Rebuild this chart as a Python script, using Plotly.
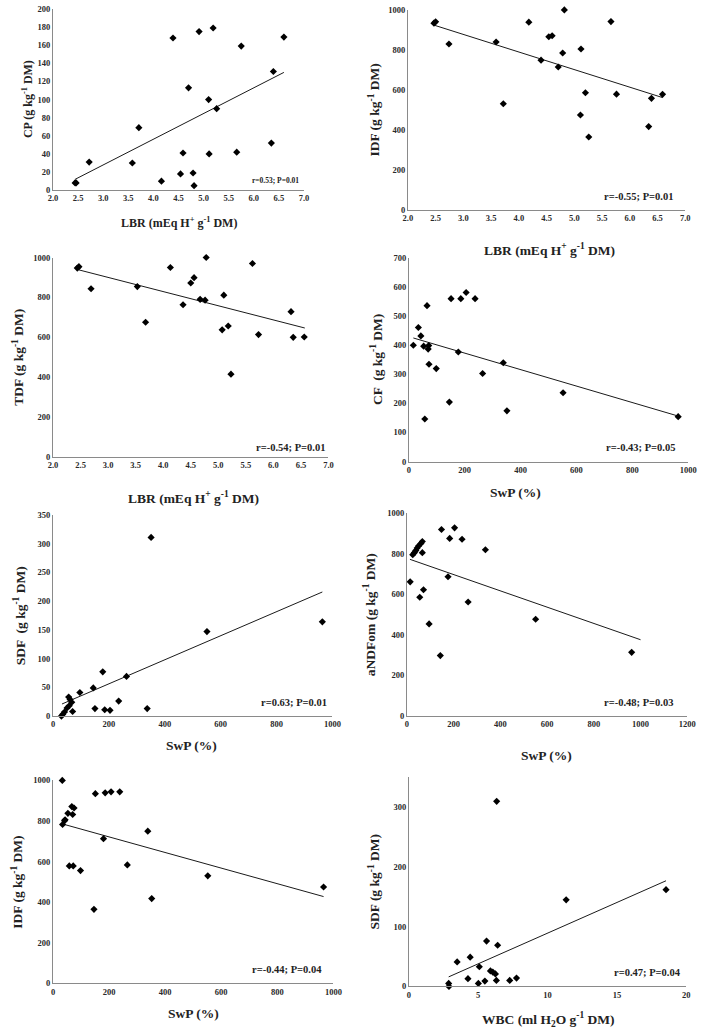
import plotly.graph_objects as go

W, H = 709, 1035

# ── Data ─────────────────────────────────────────────────────

# CP vs LBR
lbr_cp = [2.44, 2.46, 2.72, 3.58, 3.71, 4.16, 4.39, 4.54, 4.59, 4.70, 4.79,
          4.81, 4.91, 5.10, 5.11, 5.19, 5.26, 5.66, 5.75, 6.35, 6.39, 6.60]
cp = [8, 8, 31, 30, 69, 10, 168, 18, 41, 113, 19,
      5, 175, 100, 40, 179, 90, 42, 159, 52, 131, 169]
cp_fit_x = [2.44, 6.60]
cp_fit = [12, 130]

# IDF vs LBR
lbr_idf = [2.47, 2.50, 2.74, 3.59, 3.72, 4.18, 4.40, 4.54, 4.60, 4.71, 4.79,
           4.82, 5.11, 5.12, 5.20, 5.26, 5.66, 5.76, 6.34, 6.39, 6.59]
idf_lbr = [934, 941, 830, 840, 531, 939, 749, 866, 871, 715, 785,
           1000, 475, 805, 586, 365, 942, 579, 417, 558, 578]
idf_lbr_fit_x = [2.45, 6.59]
idf_lbr_fit = [926, 562]

# TDF vs LBR
lbr_tdf = [2.44, 2.47, 2.69, 3.53, 3.68, 4.13, 4.36, 4.50, 4.56, 4.67, 4.76,
           4.78, 5.07, 5.10, 5.18, 5.23, 5.62, 5.73, 6.32, 6.36, 6.56]
tdf = [947, 954, 843, 854, 675, 950, 763, 872, 899, 790, 786,
       1000, 637, 811, 656, 414, 970, 613, 728, 599, 601]
tdf_fit_x = [2.44, 6.57]
tdf_fit = [940, 646]

# CF vs SwP
swp_cf = [16, 34, 43, 53, 57, 65, 69, 71, 72, 98, 145,
          151, 177, 186, 205, 237, 264, 338, 351, 552, 964]
cf = [399, 460, 431, 396, 146, 535, 386, 398, 334, 319, 204,
      559, 376, 559, 580, 559, 302, 339, 174, 236, 154]
cf_fit_x = [16, 964]
cf_fit = [424, 156]

# SDF vs SwP
swp_sdf = [30, 35, 41, 50, 56, 58, 61, 67, 70, 96, 144,
           150, 178, 185, 204, 235, 263, 337, 351, 551, 964]
sdf_swp = [0, 3, 7, 14, 33, 18, 29, 24, 8, 41, 49,
           13, 77, 11, 10, 26, 69, 13, 311, 147, 164]
sdf_swp_fit_x = [32, 964]
sdf_swp_fit = [21, 216]

# aNDFom vs SwP
swp_ndf = [14, 25, 32, 38, 44, 50, 55, 60, 66, 66, 71,
           95, 143, 148, 176, 183, 204, 236, 262, 336, 551, 962]
andfom = [661, 795, 805, 815, 828, 838, 585, 850, 860, 805, 622,
          454, 298, 919, 686, 875, 927, 871, 562, 819, 477, 314]
andfom_fit_x = [13, 1000]
andfom_fit = [772, 376]

# IDF vs SwP
swp_idf = [33, 34, 41, 43, 53, 58, 67, 70, 72, 75, 98,
           146, 151, 180, 186, 207, 238, 265, 338, 352, 552, 965]
idf_swp = [1000, 783, 802, 806, 838, 579, 871, 832, 579, 864, 556,
           365, 935, 713, 939, 944, 944, 584, 750, 418, 530, 475]
idf_swp_fit_x = [33, 965]
idf_swp_fit = [786, 428]

# SDF vs WBC
wbc = [2.87, 2.89, 3.48, 4.26, 4.42, 5.01, 5.08, 5.48, 5.60, 5.88,
       6.05, 6.24, 6.31, 6.33, 6.40, 7.27, 7.76, 11.34, 18.54]
sdf_wbc = [5, 0, 41, 13, 49, 5, 33, 9, 76, 26,
           24, 21, 10, 310, 69, 10, 14, 145, 162]
sdf_wbc_fit_x = [2.87, 18.54]
sdf_wbc_fit = [16, 177]

stats = ["r=0.53; P=0.01", "r=-0.55; P=0.01", "r=-0.54; P=0.01", "r=-0.43; P=0.05",
         "r=0.63; P=0.01", "r=-0.48; P=0.03", "r=-0.44; P=0.04", "r=0.47; P=0.04"]

LBR_TITLE = "LBR (mEq H<sup>+</sup> g<sup>-1</sup> DM)"
SWP_TITLE = "SwP (%)"

# ── Panel layout (pixel boxes on the 709x1035 page) ──────────
# box = (left, right, top, bottom); ytx = y-title centre x; xtc/xty = x-title centre
panels = [
    dict(x=lbr_cp, y=cp, fx=cp_fit_x, fy=cp_fit, box=(49, 305, 4, 187),
         xr=[2, 7], xd=0.5, xf=".1f", yr=[0, 200], yd=20,
         xt=LBR_TITLE, yt="CP (g kg<sup>-1</sup> DM)", ytx=23, xtc=178, xty=220,
         sx=302, sy=177, small=True),
    dict(x=lbr_idf, y=idf_lbr, fx=idf_lbr_fit_x, fy=idf_lbr_fit, box=(411, 694, 5, 207),
         xr=[2, 7], xd=0.5, xf=".1f", yr=[0, 1000], yd=200,
         xt=LBR_TITLE, yt="IDF (g kg<sup>-1</sup> DM)", ytx=377, xtc=555, xty=247,
         sx=684, sy=193),
    dict(x=lbr_tdf, y=tdf, fx=tdf_fit_x, fy=tdf_fit, box=(49, 330, 255, 456),
         xr=[2, 7], xd=0.5, xf=".1f", yr=[0, 1000], yd=200,
         xt=LBR_TITLE, yt="TDF (g kg<sup>-1</sup> DM)", ytx=13, xtc=192, xty=497,
         sx=328, sy=447),
    dict(x=swp_cf, y=cf, fx=cf_fit_x, fy=cf_fit, box=(412, 697, 255, 461),
         xr=[0, 1000], xd=200, xf="", yr=[0, 700], yd=100,
         xt=SWP_TITLE, yt="CF  (g kg<sup>-1</sup> DM)", ytx=379, xtc=521, xty=492,
         sx=686, sy=447),
    dict(x=swp_sdf, y=sdf_swp, fx=sdf_swp_fit_x, fy=sdf_swp_fit, box=(49, 334, 515, 718),
         xr=[0, 1000], xd=200, xf="", yr=[0, 350], yd=50,
         xt=SWP_TITLE, yt="SDF  (g kg<sup>-1</sup> DM)", ytx=15, xtc=190, xty=748,
         sx=331, sy=704),
    dict(x=swp_ndf, y=andfom, fx=andfom_fit_x, fy=andfom_fit, box=(410, 696, 513, 718),
         xr=[0, 1200], xd=200, xf="", yr=[0, 1000], yd=200,
         xt=SWP_TITLE, yt="aNDFom (g kg<sup>-1</sup> DM)", ytx=372, xtc=552, xty=758,
         sx=684, sy=704),
    dict(x=swp_idf, y=idf_swp, fx=idf_swp_fit_x, fy=idf_swp_fit, box=(49, 335, 783, 988),
         xr=[0, 1000], xd=200, xf="", yr=[0, 1000], yd=200,
         xt=SWP_TITLE, yt="IDF (g kg<sup>-1</sup> DM)", ytx=13, xtc=192, xty=1018,
         sx=325, sy=974),
    dict(x=wbc, y=sdf_wbc, fx=sdf_wbc_fit_x, fy=sdf_wbc_fit, box=(412, 695, 780, 991),
         xr=[0, 20], xd=5, xf="", yr=[0, 350], yd=100,
         xt="WBC (ml H<sub>2</sub>O g<sup>-1</sup> DM)", yt="SDF (g kg<sup>-1</sup> DM)",
         ytx=377, xtc=554, xty=1024, sx=692, sy=977),
]

FONT = "Liberation Serif, Times New Roman, serif"
AXIS_GREY = "#8a8a8a"


def px(x):
    return x / W


def py(y):
    return 1 - y / H


fig = go.Figure()
layout = dict(
    width=W, height=H,
    margin=dict(l=0, r=0, t=0, b=0),
    paper_bgcolor="white", plot_bgcolor="white",
    showlegend=False,
    font=dict(family=FONT, color="#222"),
    annotations=[],
)

for i, p in enumerate(panels):
    n = "" if i == 0 else str(i + 1)
    xa, ya = "x" + n, "y" + n
    l, r, t, b = p["box"]
    small = p.get("small", False)
    tick_size = 8.5
    title_size = 12 if small else 13.5
    stat_size = 7.5 if small else 10.5

    fig.add_trace(go.Scatter(
        x=p["fx"], y=p["fy"], mode="lines", xaxis=xa, yaxis=ya,
        line=dict(color="#1a1a1a", width=1), hoverinfo="skip",
    ))
    fig.add_trace(go.Scatter(
        x=p["x"], y=p["y"], mode="markers", xaxis=xa, yaxis=ya,
        marker=dict(symbol="diamond", size=5.5, color="black"),
        cliponaxis=False,
    ))

    axis_common = dict(
        showline=True, linecolor=AXIS_GREY, linewidth=1,
        showgrid=False, zeroline=False, ticks="",
        tickfont=dict(family=FONT, size=tick_size, color="#2a2a2a", weight="bold"),
        ticklabeloverflow="allow",
        fixedrange=True,
    )
    layout["xaxis" + n] = dict(
        axis_common, domain=[px(l), px(r)], anchor=ya,
        range=p["xr"], tick0=p["xr"][0], dtick=p["xd"], tickformat=p["xf"],
    )
    layout["yaxis" + n] = dict(
        axis_common, domain=[py(b), py(t)], anchor=xa,
        range=p["yr"], tick0=0, dtick=p["yd"],
    )

    # axis titles
    layout["annotations"].append(dict(
        text=p["xt"], xref="paper", yref="paper", x=px(p["xtc"]), y=py(p["xty"]),
        xanchor="center", yanchor="middle", showarrow=False,
        font=dict(family=FONT, size=title_size, color="#222", weight="bold"),
    ))
    layout["annotations"].append(dict(
        text=p["yt"], xref="paper", yref="paper", x=px(p["ytx"]), y=py((t + b) / 2),
        xanchor="center", yanchor="middle", showarrow=False, textangle=-90,
        font=dict(family=FONT, size=title_size, color="#222", weight="bold"),
    ))
    # correlation note
    layout["annotations"].append(dict(
        text=stats[i], xref="paper", yref="paper", x=px(p["sx"]), y=py(p["sy"]),
        xanchor="right", yanchor="middle", showarrow=False,
        font=dict(family=FONT, size=stat_size, color="#222", weight="bold"),
    ))

fig.update_layout(**layout)
# drop the default body margin so the figure sits flush in the 709x1035 window
fig.write_html(
    "out.html",
    config={"displayModeBar": False},
    post_script="document.body.style.margin='0';",
)
